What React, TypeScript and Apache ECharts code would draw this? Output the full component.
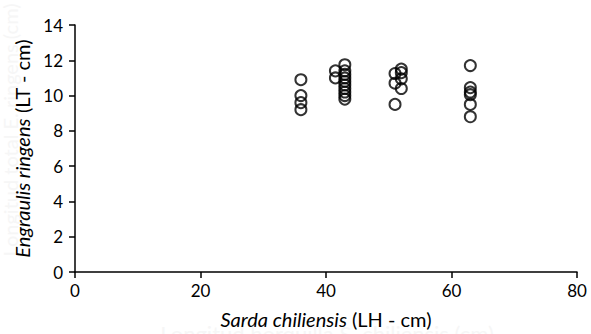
import React, { useEffect, useRef } from "react";
import * as echarts from "echarts";

const xTicks = [0, 20, 40, 60, 80];
const yTicks = [0, 2, 4, 6, 8, 10, 12, 14];

const sardaLength = [
  36, 36, 36, 36,
  41.5, 41.5,
  43, 43, 43, 43, 43, 43, 43, 43, 43, 43,
  51, 51, 51,
  52, 52, 52, 52,
  63, 63, 63, 63, 63, 63,
];
const engraulisLength = [
  10.9, 10.0, 9.6, 9.2,
  11.4, 11.0,
  11.75, 11.4, 11.2, 11.0, 10.8, 10.6, 10.4, 10.2, 10.0, 9.8,
  11.25, 10.7, 9.5,
  11.5, 11.3, 10.95, 10.4,
  11.7, 10.45, 10.2, 10.05, 9.5, 8.8,
];

export default function App() {
  const ref = useRef<HTMLDivElement>(null);
  useEffect(() => {
    if (!ref.current) return;
    const chart = echarts.init(ref.current, null, { renderer: "svg" });
    const font = "Lato, 'Open Sans', sans-serif";
    const nameRich = {
      i: { fontStyle: "italic", fontSize: 20, color: "#000", fontFamily: font },
      n: { fontSize: 20, color: "#000", fontFamily: font },
    };
    chart.setOption({
      animation: false,
      backgroundColor: "#ffffff",
      textStyle: { fontFamily: font },
      grid: { left: 75, right: 14, top: 25, bottom: 60 },
      graphic: [
        {
          type: "text",
          x: 327,
          y: 322,
          silent: true,
          style: {
            text: "Longitud horquilla S. chiliensis (cm)",
            fill: "#f6f6f6",
            font: "22px " + font,
            textAlign: "center",
            textVerticalAlign: "top",
          },
        },
        {
          type: "text",
          x: 0,
          y: 130,
          rotation: Math.PI / 2,
          silent: true,
          style: {
            text: "Longitud total E. ringens (cm)",
            fill: "#f6f6f6",
            font: "20px " + font,
            textAlign: "center",
            textVerticalAlign: "top",
          },
        },
      ],
      xAxis: {
        type: "value",
        min: xTicks[0],
        max: xTicks[xTicks.length - 1],
        interval: 20,
        name: "{i|Sarda chiliensis}{n| (LH - cm)}",
        nameLocation: "middle",
        nameGap: 37,
        nameTextStyle: { fontSize: 20, color: "#000", fontFamily: font, rich: nameRich },
        axisLine: { show: true, lineStyle: { color: "#000", width: 1.5 } },
        axisTick: { show: true, length: 6, lineStyle: { color: "#000", width: 1.5 } },
        axisLabel: { color: "#000", fontSize: 17, margin: 10, fontFamily: font },
        splitLine: { show: false },
      },
      yAxis: {
        type: "value",
        min: yTicks[0],
        max: yTicks[yTicks.length - 1],
        interval: 2,
        name: "{i|Engraulis ringens}{n| (LT - cm)}",
        nameLocation: "middle",
        nameGap: 32,
        nameRotate: 90,
        nameTextStyle: { fontSize: 20, color: "#000", fontFamily: font, rich: nameRich },
        axisLine: { show: true, lineStyle: { color: "#000", width: 1.5 } },
        axisTick: { show: true, length: 6, lineStyle: { color: "#000", width: 1.5 } },
        axisLabel: { color: "#000", fontSize: 17, margin: 12, fontFamily: font },
        splitLine: { show: false },
      },
      series: [
        {
          type: "scatter",
          symbol: "circle",
          symbolSize: 11,
          itemStyle: { color: "transparent", borderColor: "#000", borderWidth: 2 },
          data: sardaLength.map((x, i) => [x, engraulisLength[i]]),
        },
      ],
    });
    return () => chart.dispose();
  }, []);
  return (
    <div
      ref={ref}
      style={{ position: "absolute", left: 0, top: 0, width: 591, height: 334 }}
    />
  );
}
